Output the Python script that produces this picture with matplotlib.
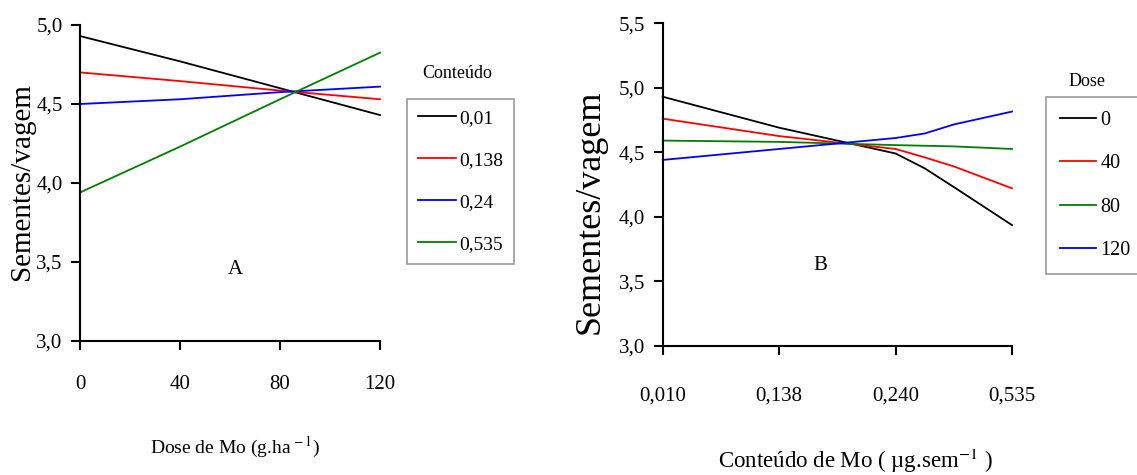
import matplotlib
matplotlib.use("Agg")
import matplotlib.pyplot as plt
from matplotlib.ticker import FuncFormatter

plt.rcParams['font.family'] = ['Liberation Serif', 'DejaVu Serif']
plt.rcParams['mathtext.fontset'] = 'stix'

# Panel A data
dose = [0, 40, 80, 120]
conteudo_labels = ["0,01", "0,138", "0,24", "0,535"]
a_001 = [4.93, 4.77, 4.60, 4.43]
a_0138 = [4.70, 4.645, 4.585, 4.53]
a_024 = [4.50, 4.53, 4.575, 4.61]
a_0535 = [3.94, 4.23, 4.53, 4.825]

# Panel B data (x = category position on the Mo-content axis)
b_x = [0, 1, 2, 2.25, 2.5, 3]
b_ticklabels = ["0,010", "0,138", "0,240", "0,535"]
dose_labels = ["0", "40", "80", "120"]
b_0 = [4.93, 4.69, 4.49, 4.375, 4.23, 3.935]
b_40 = [4.76, 4.625, 4.525, 4.46, 4.39, 4.22]
b_80 = [4.59, 4.58, 4.555, 4.55, 4.545, 4.525]
b_120 = [4.44, 4.525, 4.61, 4.645, 4.715, 4.815]

colors_A = ["black", "#ff0000", "#0000ff", "#008000"]
colors_B = ["black", "#ff0000", "#008000", "#0000ff"]

W, H = 1137, 475
fig = plt.figure(figsize=(W / 100, H / 100), dpi=100)

def fx(px):
    return px / W

def fy(py):
    return 1 - py / H

axA = fig.add_axes([fx(80), fy(341), fx(380) - fx(80), fy(25) - fy(341)])
axB = fig.add_axes([fx(662.7), fy(345.7), fx(1012) - fx(662.7), fy(23.2) - fy(345.7)])

comma = FuncFormatter(lambda v, p: f"{v:.1f}".replace(".", ","))

for ax in (axA, axB):
    for s in ("top", "right"):
        ax.spines[s].set_visible(False)
    for s in ("left", "bottom"):
        ax.spines[s].set_linewidth(1.5)
    ax.tick_params(axis="both", direction="out", width=1.5, length=6.5, labelsize=15)
    ax.tick_params(axis="y", pad=6)
    ax.yaxis.set_major_formatter(comma)
axA.tick_params(axis="x", pad=18)
axB.tick_params(axis="x", pad=23)

# Panel A
for ys, c, lab in zip([a_001, a_0138, a_024, a_0535], colors_A, conteudo_labels):
    axA.plot(dose, ys, color=c, lw=1.3, label=lab, clip_on=False)
axA.set_xlim(0, 120)
axA.set_ylim(3.0, 5.0)
axA.set_xticks(dose)
axA.set_yticks([3.0, 3.5, 4.0, 4.5, 5.0])
axA.text(62, 3.45, "A", fontsize=15, ha="center", va="center")
fig.text(fx(22), fy(182), "Sementes/vagem", fontsize=21, rotation=90, ha="center", va="center")
legA = axA.legend(loc="upper left", bbox_to_anchor=(fx(407), fy(99)), bbox_transform=fig.transFigure,
                  fontsize=14, frameon=True, fancybox=False, edgecolor="#808080",
                  handlelength=1.95, handletextpad=0.2, labelspacing=1.25, borderpad=0.55,
                  borderaxespad=0)
legA.get_frame().set_linewidth(1.2)
fig.text(fx(457), fy(74), "Conteúdo", fontsize=13, ha="center", va="center")
fig.text(fx(235), fy(447), r"Dose de Mo (g.ha$^{\,-1}$)", fontsize=14, ha="center", va="center")

# Panel B
for ys, c, lab in zip([b_0, b_40, b_80, b_120], colors_B, dose_labels):
    axB.plot(b_x, ys, color=c, lw=1.3, label=lab, clip_on=False)
axB.set_xlim(0, 3)
axB.set_ylim(3.0, 5.5)
axB.set_xticks(range(len(b_ticklabels)))
axB.set_xticklabels(b_ticklabels)
axB.set_yticks([3.0, 3.5, 4.0, 4.5, 5.0, 5.5])
axB.text(1.35, 3.62, "B", fontsize=15, ha="center", va="center")
fig.text(fx(590), fy(212), "Sementes/vagem", fontsize=26, rotation=90, ha="center", va="center")
legB = axB.legend(loc="upper left", bbox_to_anchor=(fx(1046), fy(97)), bbox_transform=fig.transFigure,
                  fontsize=14.5, frameon=True, fancybox=False, edgecolor="#808080",
                  handlelength=1.8, handletextpad=0.2, labelspacing=1.2, borderpad=0.7,
                  borderaxespad=0)
legB.get_frame().set_linewidth(1.2)
fig.text(fx(1087), fy(81), "Dose", fontsize=13, ha="center", va="center")
fig.text(fx(855), fy(461), "Conteúdo de Mo ( µg.sem$^{-1}$ )", fontsize=16.5, ha="center", va="center")

fig.savefig("out.png", dpi=100)
